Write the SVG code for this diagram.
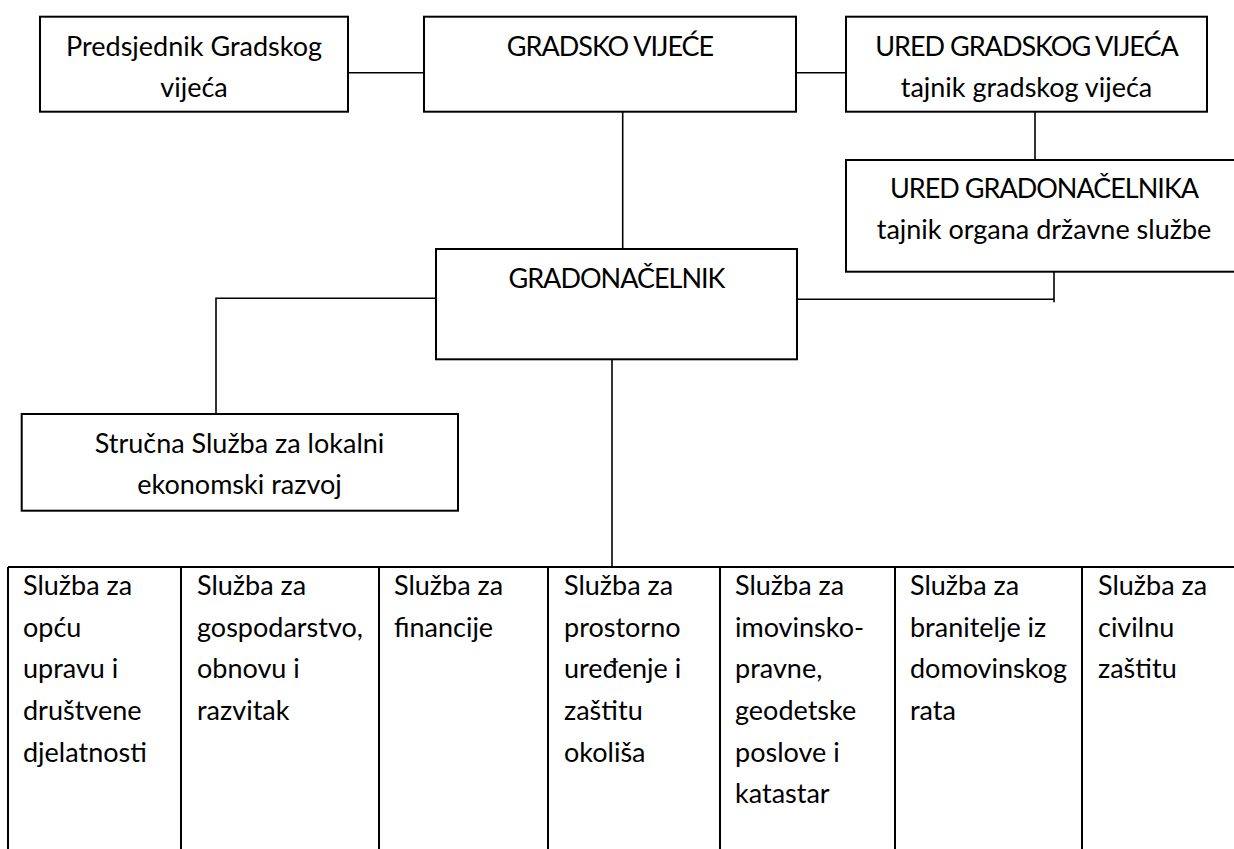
<svg xmlns="http://www.w3.org/2000/svg" width="1234" height="849" viewBox="0 0 1234 849">
<style>
.box{fill:#fff;stroke:#000;stroke-width:2}
.ln{stroke:#000;stroke-width:1.6;fill:none}
.tb{stroke:#000;stroke-width:2;fill:none}
text{font-family:Lato,"Open Sans","Liberation Sans",sans-serif;font-size:27px;fill:#000}
.c{text-anchor:middle}
.cap{letter-spacing:-1px}
</style>
<rect width="1234" height="849" fill="#fff"/>
<g id="connectors">
<line class="ln" x1="348" y1="72.7" x2="424" y2="72.7"/>
<line class="ln" x1="796" y1="72.7" x2="846" y2="72.7"/>
<line class="ln" x1="622.7" y1="106" x2="622.7" y2="249"/>
<line class="ln" x1="1035" y1="106" x2="1035" y2="166.7"/>
<polyline class="ln" points="797,299.3 1054,299.3"/>
<line class="ln" x1="1054" y1="265" x2="1054" y2="302.3"/>
<polyline class="ln" points="436,298.3 216,298.3 216,425"/>
<line class="ln" x1="612" y1="353.3" x2="612" y2="567"/>
</g>
<g id="n-predsjednik">
<rect class="box" x="40" y="16.7" width="308" height="95"/>
<text class="c" x="194" y="55.7">Predsjednik Gradskog</text>
<text class="c" x="194" y="97.3">vijeća</text>
</g>
<g id="n-gradsko-vijece">
<rect class="box" x="424" y="16.7" width="372" height="95"/>
<text class="c cap" x="610" y="55.7">GRADSKO VIJEĆE</text>
</g>
<g id="n-ured-gv">
<rect class="box" x="846" y="16.7" width="361" height="95"/>
<text class="c cap" x="1026.5" y="55.7">URED GRADSKOG VIJEĆA</text>
<text class="c" x="1026.5" y="97.3">tajnik gradskog vijeća</text>
</g>
<g id="n-ured-gradonacelnika">
<rect class="box" x="846" y="160" width="400" height="111.7"/>
<text class="c cap" x="1044" y="198.3">URED GRADONAČELNIKA</text>
<text class="c" x="1044" y="239.3">tajnik organa državne službe</text>
</g>
<g id="n-gradonacelnik">
<rect class="box" x="436" y="249" width="361" height="110.3"/>
<text class="c cap" x="616.5" y="287.7">GRADONAČELNIK</text>
</g>
<g id="n-strucna">
<rect class="box" x="21.7" y="414" width="436.3" height="96.7"/>
<text class="c" x="239.5" y="453.3">Stručna Služba za lokalni</text>
<text class="c" x="239.5" y="494.3">ekonomski razvoj</text>
</g>
<g id="n-sluzbe">
<path class="tb" d="M8,567 H1234 M8,567 V849 M181,567 V849 M379,567 V849 M548,567 V849 M720,567 V849 M895,567 V849 M1082,567 V849"/>
<text x="23" y="595">Služba za</text>
<text x="23" y="636.7">opću</text>
<text x="23" y="678.3">upravu i</text>
<text x="23" y="720">društvene</text>
<text x="23" y="761.7">djelatnosti</text>
<text x="197" y="595">Služba za</text>
<text x="197" y="636.7">gospodarstvo,</text>
<text x="197" y="678.3">obnovu i</text>
<text x="197" y="720">razvitak</text>
<text x="394" y="595">Služba za</text>
<text x="394" y="636.7">financije</text>
<text x="564" y="595">Služba za</text>
<text x="564" y="636.7">prostorno</text>
<text x="564" y="678.3">uređenje i</text>
<text x="564" y="720">zaštitu</text>
<text x="564" y="761.7">okoliša</text>
<text x="735" y="595">Služba za</text>
<text x="735" y="636.7">imovinsko-</text>
<text x="735" y="678.3">pravne,</text>
<text x="735" y="720">geodetske</text>
<text x="735" y="761.7">poslove i</text>
<text x="735" y="803.3">katastar</text>
<text x="910" y="595">Služba za</text>
<text x="910" y="636.7">branitelje iz</text>
<text x="910" y="678.3">domovinskog</text>
<text x="910" y="720">rata</text>
<text x="1098" y="595">Služba za</text>
<text x="1098" y="636.7">civilnu</text>
<text x="1098" y="678.3">zaštitu</text>
</g>
</svg>
